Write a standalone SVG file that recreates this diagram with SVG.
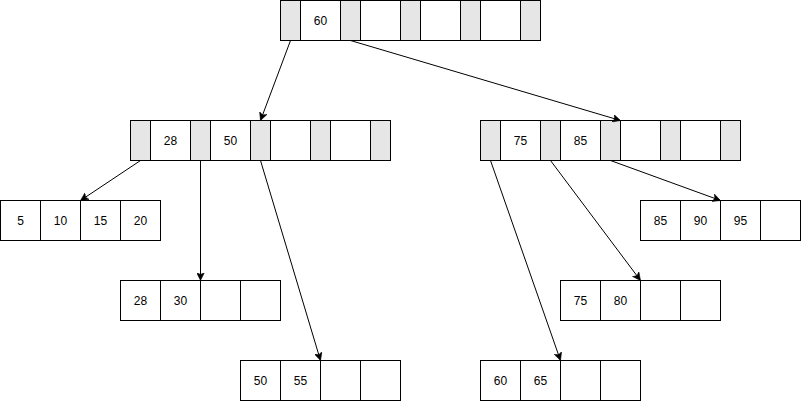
<svg xmlns="http://www.w3.org/2000/svg" width="802" height="401" viewBox="0 0 802 401">
<defs>
<style>
.g{fill:#e6e6e6;stroke:#000;stroke-width:1}
.w{fill:#fff;stroke:#000;stroke-width:1}
text{font-family:"Liberation Sans",Arial,sans-serif;font-size:12px;fill:#000;text-anchor:middle;dominant-baseline:central}
.c{fill:none;stroke:#000;stroke-width:1}
</style>
<marker id="ah" markerWidth="9" markerHeight="8" refX="8" refY="4" orient="auto" markerUnits="userSpaceOnUse">
<path d="M0,0 L8,4 L0,8 L2,4 Z" fill="#000" stroke="#000" stroke-width="0.5"/>
</marker>
</defs>
<rect width="802" height="401" fill="#fff"/>
<g transform="translate(0.5,0.5)">
<g id="root">
<rect class="g" x="280" y="0" width="20" height="40"/>
<rect class="w" x="300" y="0" width="40" height="40"/><text x="320" y="20">60</text>
<rect class="g" x="340" y="0" width="20" height="40"/>
<rect class="w" x="360" y="0" width="40" height="40"/>
<rect class="g" x="400" y="0" width="20" height="40"/>
<rect class="w" x="420" y="0" width="40" height="40"/>
<rect class="g" x="460" y="0" width="20" height="40"/>
<rect class="w" x="480" y="0" width="40" height="40"/>
<rect class="g" x="520" y="0" width="20" height="40"/>
</g>
<g id="inner-left">
<rect class="g" x="130" y="120" width="20" height="40"/>
<rect class="w" x="150" y="120" width="40" height="40"/><text x="170" y="140">28</text>
<rect class="g" x="190" y="120" width="20" height="40"/>
<rect class="w" x="210" y="120" width="40" height="40"/><text x="230" y="140">50</text>
<rect class="g" x="250" y="120" width="20" height="40"/>
<rect class="w" x="270" y="120" width="40" height="40"/>
<rect class="g" x="310" y="120" width="20" height="40"/>
<rect class="w" x="330" y="120" width="40" height="40"/>
<rect class="g" x="370" y="120" width="20" height="40"/>
</g>
<g id="inner-right">
<rect class="g" x="480" y="120" width="20" height="40"/>
<rect class="w" x="500" y="120" width="40" height="40"/><text x="520" y="140">75</text>
<rect class="g" x="540" y="120" width="20" height="40"/>
<rect class="w" x="560" y="120" width="40" height="40"/><text x="580" y="140">85</text>
<rect class="g" x="600" y="120" width="20" height="40"/>
<rect class="w" x="620" y="120" width="40" height="40"/>
<rect class="g" x="660" y="120" width="20" height="40"/>
<rect class="w" x="680" y="120" width="40" height="40"/>
<rect class="g" x="720" y="120" width="20" height="40"/>
</g>
<g id="leaf1">
<rect class="w" x="0" y="200" width="40" height="40"/><text x="20" y="220">5</text>
<rect class="w" x="40" y="200" width="40" height="40"/><text x="60" y="220">10</text>
<rect class="w" x="80" y="200" width="40" height="40"/><text x="100" y="220">15</text>
<rect class="w" x="120" y="200" width="40" height="40"/><text x="140" y="220">20</text>
</g>
<g id="leaf2">
<rect class="w" x="120" y="280" width="40" height="40"/><text x="140" y="300">28</text>
<rect class="w" x="160" y="280" width="40" height="40"/><text x="180" y="300">30</text>
<rect class="w" x="200" y="280" width="40" height="40"/>
<rect class="w" x="240" y="280" width="40" height="40"/>
</g>
<g id="leaf3">
<rect class="w" x="240" y="360" width="40" height="40"/><text x="260" y="380">50</text>
<rect class="w" x="280" y="360" width="40" height="40"/><text x="300" y="380">55</text>
<rect class="w" x="320" y="360" width="40" height="40"/>
<rect class="w" x="360" y="360" width="40" height="40"/>
</g>
<g id="leaf4">
<rect class="w" x="480" y="360" width="40" height="40"/><text x="500" y="380">60</text>
<rect class="w" x="520" y="360" width="40" height="40"/><text x="540" y="380">65</text>
<rect class="w" x="560" y="360" width="40" height="40"/>
<rect class="w" x="600" y="360" width="40" height="40"/>
</g>
<g id="leaf5">
<rect class="w" x="560" y="280" width="40" height="40"/><text x="580" y="300">75</text>
<rect class="w" x="600" y="280" width="40" height="40"/><text x="620" y="300">80</text>
<rect class="w" x="640" y="280" width="40" height="40"/>
<rect class="w" x="680" y="280" width="40" height="40"/>
</g>
<g id="leaf6">
<rect class="w" x="640" y="200" width="40" height="40"/><text x="660" y="220">85</text>
<rect class="w" x="680" y="200" width="40" height="40"/><text x="700" y="220">90</text>
<rect class="w" x="720" y="200" width="40" height="40"/><text x="740" y="220">95</text>
<rect class="w" x="760" y="200" width="40" height="40"/>
</g>
<g id="connectors">
<line class="c" x1="290" y1="40" x2="260" y2="120" marker-end="url(#ah)"/>
<line class="c" x1="350" y1="40" x2="620" y2="120" marker-end="url(#ah)"/>
<line class="c" x1="140" y1="160" x2="80" y2="200" marker-end="url(#ah)"/>
<line class="c" x1="200" y1="160" x2="200" y2="280" marker-end="url(#ah)"/>
<line class="c" x1="260" y1="160" x2="320" y2="360" marker-end="url(#ah)"/>
<line class="c" x1="490" y1="160" x2="560" y2="360" marker-end="url(#ah)"/>
<line class="c" x1="550" y1="160" x2="640" y2="280" marker-end="url(#ah)"/>
<line class="c" x1="610" y1="160" x2="720" y2="200" marker-end="url(#ah)"/>
</g>
</g>
</svg>
